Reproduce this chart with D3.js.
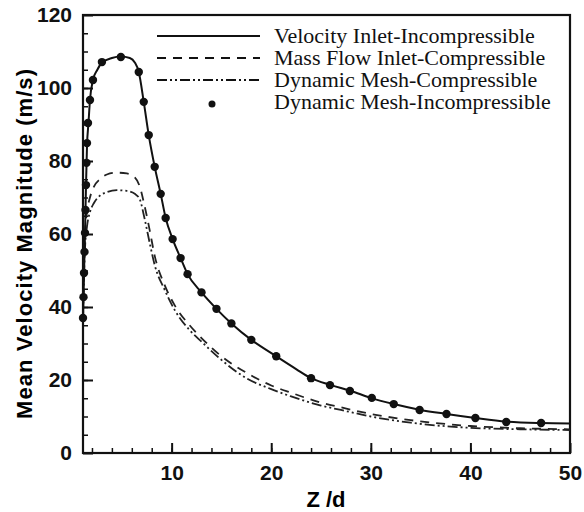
<!DOCTYPE html>
<html lang="en">
<head>
<meta charset="UTF-8">
<script src="https://d3js.org/d3.v7.min.js"></script>
<style>
  body { margin: 0; background: #fff; }
  .tick text { font-family: "Liberation Sans", Arial, sans-serif; font-weight: bold; font-size: 21px; fill: #111; }
  .tick line, .domain { stroke: #111; }
</style>
</head>
<body>
<svg width="584" height="512"></svg>
<script>
// data
var inletX = [1.1, 1.2, 1.3, 1.4, 1.5, 1.65, 1.8, 2.1, 2.5, 3.0, 4.0, 4.9, 5.8, 6.3, 6.7, 7.2, 7.7, 8.3, 8.9, 9.4, 10.1, 10.9, 11.6, 13, 14.5, 16, 18, 20.5, 22.5, 24, 26, 28, 30, 32.3, 35, 37.6, 40.5, 43.6, 47.1, 50];
var inletV = [36, 49, 60, 73, 84, 90.4, 96.7, 102.2, 104.8, 106.9, 108.2, 108.6, 108.2, 107, 104.4, 96.2, 87.1, 78.4, 71.0, 64.4, 58.6, 53.4, 49.0, 44, 39.5, 35.5, 31, 26.5, 23, 20.5, 18.6, 17.0, 15.1, 13.4, 11.8, 10.7, 9.6, 8.6, 8.2, 8.1];

var massX = [1.1, 1.2, 1.3, 1.5, 1.8, 2.2, 2.8, 3.5, 4.5, 5.5, 6.3, 6.8, 7.3, 7.8, 8.3, 9.3, 10.3, 11.8, 13, 15, 17.5, 20, 22, 25, 27, 30, 34, 40, 45, 50];
var massV = [38, 52, 60, 66, 70, 73, 75, 76.3, 76.8, 76.6, 75.5, 73, 67.5, 61, 54, 46, 40.5, 35, 31.5, 26.5, 22, 18.5, 16.5, 13.8, 12.5, 10.7, 9.0, 7.4, 6.8, 6.5];

var meshCX = [1.1, 1.2, 1.3, 1.5, 1.8, 2.2, 2.8, 3.5, 4.5, 5.5, 6.3, 6.8, 7.3, 7.8, 8.3, 9.3, 10.3, 11.8, 13, 15, 17.5, 20, 22, 25, 27, 30, 34, 40, 45, 50];
var meshCV = [36, 48, 56, 62, 66, 68.5, 70.5, 71.5, 72, 71.8, 71, 69.5, 64, 57.5, 51.5, 44.7, 39.2, 33.7, 30.5, 25.5, 20.5, 17.5, 15.5, 13, 11.8, 10.0, 8.3, 6.9, 6.5, 6.3];

var meshIX = [1.1, 1.15, 1.2, 1.25, 1.3, 1.35, 1.4, 1.45, 1.5, 1.6, 1.8, 2.1, 3.0, 4.9, 6.7, 7.2, 7.7, 8.3, 8.9, 9.4, 10.1, 10.9, 11.6, 13, 14.5, 16, 18, 20.5, 24, 25.9, 27.9, 30.1, 32.3, 34.9, 37.6, 40.5, 43.6, 47.1];
var meshIV = [37.0, 42.7, 49.3, 55.1, 60.3, 66.6, 73.4, 79.5, 84.9, 90.4, 96.7, 102.2, 107.1, 108.5, 104.4, 96.2, 87.1, 78.4, 71.0, 64.4, 58.6, 53.4, 49.0, 44, 39.5, 35.5, 31, 26.5, 20.5, 18.6, 17.0, 15.1, 13.4, 11.8, 10.7, 9.6, 8.5, 8.2];

var xTicks = [10, 20, 30, 40, 50];
var yTicks = [0, 20, 40, 60, 80, 100, 120];
var legendNames = ["Velocity Inlet-Incompressible", "Mass Flow Inlet-Compressible", "Dynamic Mesh-Compressible", "Dynamic Mesh-Incompressible"];

var svg = d3.select("svg");
var plotL = 83, plotR = 570, plotT = 15, plotB = 453;

var x = d3.scaleLinear().domain([1.1, 50]).range([plotL, plotR]);
var y = d3.scaleLinear().domain([0, 120]).range([plotB, plotT]);

// minor ticks
svg.append("g")
    .attr("transform", "translate(0," + plotB + ")")
    .call(d3.axisBottom(x).tickValues(d3.range(2, 50, 2)).tickSize(-5).tickFormat(""))
    .call(g => g.select(".domain").remove())
    .selectAll("line").attr("stroke-width", 1.5);
svg.append("g")
    .attr("transform", "translate(" + plotL + ",0)")
    .call(d3.axisLeft(y).tickValues(d3.range(5, 120, 5)).tickSize(-5).tickFormat(""))
    .call(g => g.select(".domain").remove())
    .selectAll("line").attr("stroke-width", 1.5);

// major ticks + labels
var xa = svg.append("g")
    .attr("transform", "translate(0," + plotB + ")")
    .call(d3.axisBottom(x).tickValues(xTicks).tickSize(-10).tickPadding(12));
xa.select(".domain").remove();
xa.selectAll("line").attr("stroke-width", 2);

var ya = svg.append("g")
    .attr("transform", "translate(" + plotL + ",0)")
    .call(d3.axisLeft(y).tickValues(yTicks).tickSize(-10).tickPadding(11));
ya.select(".domain").remove();
ya.selectAll("line").attr("stroke-width", 2);

// frame
svg.append("rect")
    .attr("x", plotL).attr("y", plotT)
    .attr("width", plotR - plotL).attr("height", plotB - plotT)
    .attr("fill", "none").attr("stroke", "#111").attr("stroke-width", 2.2);

var line = d3.line().x(d => x(d[0])).y(d => y(d[1])).curve(d3.curveMonotoneX);

svg.append("path")
    .datum(d3.zip(massX, massV))
    .attr("d", line)
    .attr("fill", "none").attr("stroke", "#222").attr("stroke-width", 1.8)
    .attr("stroke-dasharray", "9,7");

svg.append("path")
    .datum(d3.zip(meshCX, meshCV))
    .attr("d", line)
    .attr("fill", "none").attr("stroke", "#222").attr("stroke-width", 1.8)
    .attr("stroke-dasharray", "10,3,2,3,2,3");

svg.append("path")
    .datum(d3.zip(inletX, inletV))
    .attr("d", line)
    .attr("fill", "none").attr("stroke", "#111").attr("stroke-width", 2);

svg.append("g").selectAll("circle")
    .data(d3.zip(meshIX, meshIV))
    .enter().append("circle")
    .attr("cx", d => x(d[0]))
    .attr("cy", d => y(d[1]))
    .attr("r", 4.2)
    .attr("fill", "#111");

// axis titles
svg.append("text")
    .attr("x", 326).attr("y", 507)
    .attr("text-anchor", "middle")
    .style("font-family", "Liberation Sans, Arial, sans-serif")
    .style("font-weight", "bold").style("font-size", "22px")
    .text("Z /d");

svg.append("text")
    .attr("transform", "translate(32,244) rotate(-90)")
    .attr("text-anchor", "middle")
    .attr("textLength", 350).attr("lengthAdjust", "spacing")
    .style("font-family", "Liberation Sans, Arial, sans-serif")
    .style("font-weight", "bold").style("font-size", "22px")
    .text("Mean Velocity Magnitude (m/s)");

// legend
var dashes = [null, "9,7", "10,3,2,3,2,3"];
var legend = svg.append("g");
legendNames.forEach(function(name, i) {
    var yy = 43 + i * 22;
    if (i < 3) {
        legend.append("line")
            .attr("x1", 157).attr("x2", 260)
            .attr("y1", yy - 7).attr("y2", yy - 7)
            .attr("stroke", "#111").attr("stroke-width", 2)
            .attr("stroke-dasharray", dashes[i]);
    } else {
        legend.append("circle")
            .attr("cx", 212).attr("cy", yy - 5).attr("r", 3.5).attr("fill", "#111");
    }
    legend.append("text")
        .attr("x", 274).attr("y", yy)
        .style("font-family", "Liberation Serif, Times New Roman, serif")
        .style("font-size", "22px").attr("fill", "#111")
        .text(name);
});
</script>
</body>
</html>
